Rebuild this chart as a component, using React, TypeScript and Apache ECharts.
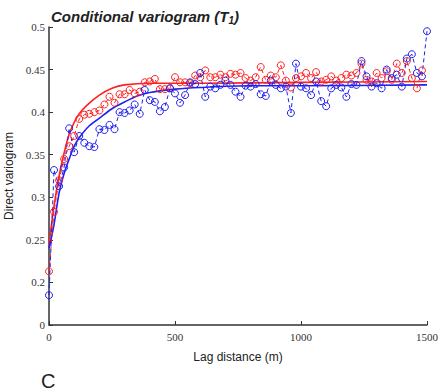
import React, { useEffect, useRef } from "react";
import * as echarts from "echarts";

const lags = [0, 20, 40, 60, 80, 100, 120, 140, 160, 180, 200, 220, 240, 260, 280, 300, 320, 340, 360, 380, 400, 420, 440, 460, 480, 500, 520, 540, 560, 580, 600, 620, 640, 660, 680, 700, 720, 740, 760, 780, 800, 820, 840, 860, 880, 900, 920, 940, 960, 980, 1000, 1020, 1040, 1060, 1080, 1100, 1120, 1140, 1160, 1180, 1200, 1220, 1240, 1260, 1280, 1300, 1320, 1340, 1360, 1380, 1400, 1420, 1440, 1460, 1480, 1500];

const redPoints = [0.213, 0.283, 0.32, 0.345, 0.36, 0.372, 0.392, 0.397, 0.398, 0.4, 0.402, 0.409, 0.418, 0.411, 0.421, 0.421, 0.426, 0.422, 0.424, 0.435, 0.436, 0.439, 0.427, 0.427, 0.428, 0.441, 0.435, 0.435, 0.434, 0.443, 0.441, 0.449, 0.441, 0.441, 0.444, 0.441, 0.445, 0.444, 0.446, 0.44, 0.437, 0.441, 0.453, 0.438, 0.443, 0.441, 0.455, 0.437, 0.429, 0.44, 0.442, 0.446, 0.44, 0.447, 0.436, 0.438, 0.442, 0.437, 0.44, 0.444, 0.443, 0.446, 0.457, 0.438, 0.436, 0.446, 0.44, 0.448, 0.438, 0.457, 0.446, 0.46, 0.44, 0.428, 0.449];

const bluePoints = [0.185, 0.332, 0.313, 0.335, 0.381, 0.353, 0.372, 0.364, 0.36, 0.359, 0.38, 0.379, 0.385, 0.38, 0.4, 0.399, 0.402, 0.409, 0.398, 0.426, 0.414, 0.412, 0.401, 0.406, 0.428, 0.422, 0.411, 0.42, 0.435, 0.433, 0.446, 0.418, 0.43, 0.428, 0.432, 0.437, 0.432, 0.424, 0.418, 0.431, 0.43, 0.433, 0.421, 0.419, 0.437, 0.432, 0.428, 0.43, 0.399, 0.457, 0.43, 0.428, 0.42, 0.436, 0.413, 0.407, 0.428, 0.432, 0.429, 0.418, 0.433, 0.432, 0.46, 0.442, 0.43, 0.434, 0.428, 0.45, 0.44, 0.444, 0.43, 0.463, 0.468, 0.446, 0.442, 0.495];

const redFitLags = [0, 20, 40, 60, 80, 100, 120, 150, 200, 250, 300, 400, 600, 1000, 1500];
const redFit = [0.245, 0.29, 0.325, 0.352, 0.374, 0.388, 0.398, 0.408, 0.42, 0.428, 0.432, 0.434, 0.434, 0.435, 0.436];

const blueFitLags = [0, 20, 40, 60, 80, 100, 120, 160, 200, 250, 300, 350, 400, 500, 600, 800, 1000, 1500];
const blueFit = [0.24, 0.268, 0.305, 0.328, 0.345, 0.36, 0.37, 0.384, 0.393, 0.404, 0.412, 0.419, 0.423, 0.427, 0.429, 0.431, 0.431, 0.432];

const xTicks = [0, 500, 1000, 1500];
const yTickLabels = ["0", "0.2", "0.25", "0.3", "0.35", "0.4", "0.45", "0.5"];

const RED = "#ff2020";
const BLUE = "#2020f0";
const AXIS = "#333333";

function pairs(xs: number[], ys: number[]) {
  return ys.map((y, i) => [xs[i], y]);
}

export default function App() {
  const ref = useRef<HTMLDivElement>(null);
  useEffect(() => {
    if (!ref.current) return;
    const chart = echarts.init(ref.current, null, { renderer: "svg" });
    const pointSeries = (name: string, color: string, data: number[][]) => ({
      name,
      type: "line",
      data,
      symbol: "circle",
      symbolSize: 7,
      showSymbol: true,
      lineStyle: { color, width: 1, type: [4, 3] },
      itemStyle: { color: "rgba(0,0,0,0)", borderColor: color, borderWidth: 1 },
      z: 3,
    });
    chart.setOption({
      animation: false,
      backgroundColor: "#ffffff",
      title: {
        text: "{a|Conditional variogram (T}{s|1}{a|)}",
        left: 46,
        top: 2,
        textStyle: {
          rich: {
            a: { fontFamily: "Liberation Sans", fontWeight: "bold", fontStyle: "italic", fontSize: 15, color: "#222" },
            s: { fontFamily: "Liberation Sans", fontWeight: "bold", fontStyle: "italic", fontSize: 10, color: "#222", padding: [8, 0, 0, 0] },
          },
        },
      },
      graphic: [
        {
          type: "text",
          left: 41,
          top: 371,
          style: { text: "C", fontFamily: "Liberation Sans", fontSize: 20, fill: "#222" },
        },
      ],
      grid: { left: 49, right: 14, top: 27, bottom: 67, outerBoundsMode: "none", containLabel: false },
      xAxis: {
        type: "value",
        min: 0,
        max: 1500,
        interval: 500,
        name: "Lag distance (m)",
        nameLocation: "middle",
        nameGap: 26,
        nameTextStyle: { fontFamily: "Liberation Sans", fontSize: 12, color: "#222" },
        axisLine: { show: true, lineStyle: { color: AXIS, width: 1.5 } },
        axisTick: { show: true, inside: true, length: 4, lineStyle: { color: AXIS } },
        axisLabel: {
          margin: 6,
          fontFamily: "Liberation Serif",
          fontSize: 11,
          color: "#333",
          formatter: (v: number) => (xTicks.includes(v) ? String(v) : ""),
        },
        splitLine: { show: false },
      },
      yAxis: {
        type: "value",
        min: 0.15,
        max: 0.5,
        interval: 0.05,
        name: "Direct variogram",
        nameLocation: "middle",
        nameGap: 28,
        nameTextStyle: { fontFamily: "Liberation Sans", fontSize: 12, color: "#222" },
        axisLine: { show: true, lineStyle: { color: AXIS, width: 1.5 } },
        axisTick: { show: true, inside: true, length: 4, lineStyle: { color: AXIS } },
        axisLabel: {
          margin: 4,
          fontFamily: "Liberation Serif",
          fontSize: 11,
          color: "#333",
          formatter: (v: number) => {
            const idx = Math.round((v - 0.15) / 0.05);
            return yTickLabels[idx] ?? "";
          },
        },
        splitLine: { show: false },
      },
      series: [
        {
          name: "redFit",
          type: "line",
          data: pairs(redFitLags, redFit),
          smooth: 0.3,
          showSymbol: false,
          symbol: "none",
          lineStyle: { color: RED, width: 1.6 },
          z: 2,
        },
        {
          name: "blueFit",
          type: "line",
          data: pairs(blueFitLags, blueFit),
          smooth: 0.3,
          showSymbol: false,
          symbol: "none",
          lineStyle: { color: BLUE, width: 1.6 },
          z: 2,
        },
        pointSeries("redPts", RED, pairs(lags, redPoints)),
        pointSeries("bluePts", BLUE, pairs(lags, bluePoints)),
      ],
    });
    return () => chart.dispose();
  }, []);
  return <div ref={ref} style={{ position: "fixed", left: 0, top: 0, width: 441, height: 392 }} />;
}
